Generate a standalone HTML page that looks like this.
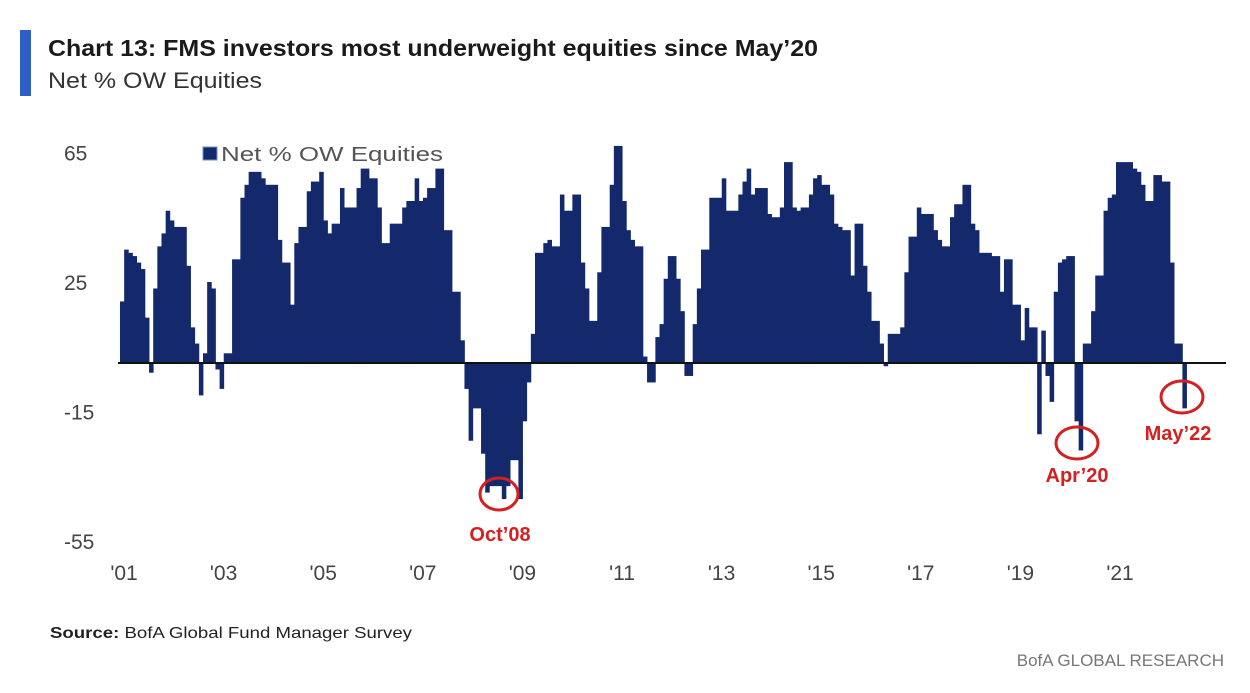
<!DOCTYPE html>
<html><head><meta charset="utf-8"><style>
body{margin:0;background:#fff;width:1250px;height:688px;overflow:hidden;font-family:"Liberation Sans",sans-serif}
</style></head><body>
<svg width="1250" height="688" xmlns="http://www.w3.org/2000/svg">
<rect x="20" y="30" width="11" height="66" fill="#2d5fc4"/>
<text x="48" y="56" font-size="23" font-weight="bold" fill="#1a1a1a" textLength="770" lengthAdjust="spacingAndGlyphs">Chart 13: FMS investors most underweight equities since May’20</text>
<text x="48" y="88" font-size="22" fill="#333" textLength="214" lengthAdjust="spacingAndGlyphs">Net % OW Equities</text>
<g id="yticks"></g>
<g id="bars"></g>
<g id="xticks"></g>
<g>
<rect x="203" y="147" width="14" height="13" fill="#14296b" stroke="#6a8fd6" stroke-width="1"/>
<text x="221" y="161" font-size="20" fill="#555" textLength="222" lengthAdjust="spacingAndGlyphs">Net % OW Equities</text>
</g>
<g>
<ellipse cx="499" cy="494" rx="19" ry="16" fill="none" stroke="#d42020" stroke-width="3"/>
<text x="500" y="541" font-size="20" font-weight="bold" fill="#d42020" text-anchor="middle">Oct’08</text>
<ellipse cx="1077" cy="443" rx="21" ry="16" fill="none" stroke="#d42020" stroke-width="3"/>
<text x="1077" y="482" font-size="20" font-weight="bold" fill="#d42020" text-anchor="middle">Apr’20</text>
<ellipse cx="1182" cy="397" rx="21" ry="16" fill="none" stroke="#d42020" stroke-width="3"/>
<text x="1178" y="440" font-size="20" font-weight="bold" fill="#d42020" text-anchor="middle">May’22</text>
</g>
<text x="50" y="638" font-size="16" fill="#222" textLength="362" lengthAdjust="spacingAndGlyphs"><tspan font-weight="bold">Source:</tspan>  BofA Global Fund Manager Survey</text>
<text x="1224" y="666" font-size="17" fill="#777" text-anchor="end">BofA GLOBAL RESEARCH</text>
</svg>
<script>
const values = [19,35,34,33,31,29,14,-3,23,36,40,47,44,42,42,42,30,11,6,-10,3,25,23,-2,
-8,3,3,32,32,51,55,59,59,59,57,55,55,55,38,31,31,18,37,42,42,53,56,56,
59,44,40,43,43,54,48,48,48,54,60,60,57,57,48,37,37,43,43,43,48,50,50,57,
50,51,54,54,60,60,41,41,22,22,7,-8,-24,-14,-14,-28,-40,-38,-38,-38,-42,-38,-30,-30,
-42,-18,-6,9,34,34,37,38,36,36,52,47,47,52,52,31,23,13,13,28,42,42,55,67,
67,50,41,38,36,36,2,-6,-6,8,12,26,33,33,26,16,-4,-4,12,23,35,35,51,51,
51,57,47,47,47,52,56,60,52,54,54,54,46,45,45,48,62,62,48,47,48,48,52,57,
58,55,55,52,43,42,41,41,27,43,43,30,22,13,13,6,-1,9,9,9,11,28,39,39,
48,46,46,46,41,38,36,36,45,49,49,55,55,43,41,34,34,34,33,33,22,32,32,18,
18,7,17,11,11,-22,10,-4,-12,22,31,32,33,33,-18,-27,6,6,16,27,27,47,51,52,
62,62,62,62,60,59,55,50,50,58,58,56,56,31,6,6,-14];
const yTicks = [65,25,-15,-55];
const xLabels = ["'01","'03","'05","'07","'09","'11","'13","'15","'17","'19","'21"];
const xLabelMonths = [0,24,48,72,96,120,144,168,192,216,240];
const ns="http://www.w3.org/2000/svg";
const x0=120, bw=4.15;
function xs(i){return x0+i*bw;}
function ys(v){return 363-v*3.24;}
const bars=document.getElementById('bars');
values.forEach((v,i)=>{
  const r=document.createElementNS(ns,'rect');
  r.setAttribute('x',xs(i));
  r.setAttribute('width',bw+0.4);
  r.setAttribute('y',Math.min(ys(v),ys(0)));
  r.setAttribute('height',Math.abs(ys(v)-ys(0)));
  r.setAttribute('fill','#14296b');
  
  
  bars.appendChild(r);
});
const base=document.createElementNS(ns,'line');
base.setAttribute('x1',118);base.setAttribute('x2',1226);
base.setAttribute('y1',ys(0));base.setAttribute('y2',ys(0));
base.setAttribute('stroke','#111');base.setAttribute('stroke-width','2');


bars.appendChild(base);
const yt=document.getElementById('yticks');
yTicks.forEach(t=>{
  const e=document.createElementNS(ns,'text');
  e.setAttribute('x',64);e.setAttribute('y',ys(t)+8);
  e.setAttribute('font-size','21');e.setAttribute('fill','#444');
  e.textContent=t;
  
  
  yt.appendChild(e);
});
const xt=document.getElementById('xticks');
xLabels.forEach((l,k)=>{
  const e=document.createElementNS(ns,'text');
  e.setAttribute('x',xs(xLabelMonths[k])+4);e.setAttribute('y',580);
  e.setAttribute('font-size','21');e.setAttribute('fill','#444');
  e.setAttribute('text-anchor','middle');
  e.textContent=l;
  
  
  xt.appendChild(e);
});
</script>
</body></html>
